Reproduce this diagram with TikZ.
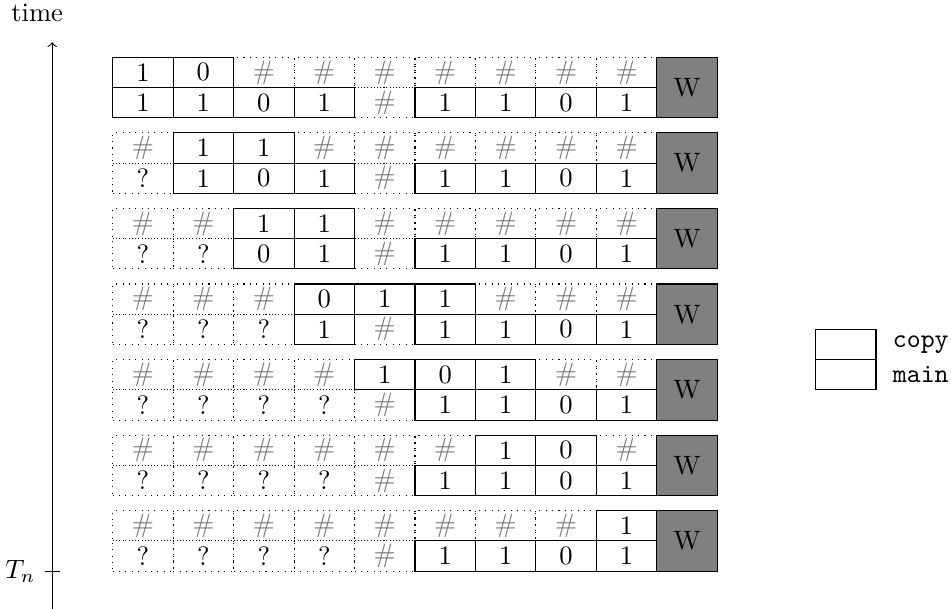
\documentclass[tikz,border=0pt]{standalone}
\begin{document}
\begin{tikzpicture}[
  solidcell/.style={draw, line width=0.4pt, minimum width=0.8cm, minimum height=0.4cm, inner sep=0pt, outer sep=0pt},
  dotcell/.style={draw, dotted, line width=0.4pt, minimum width=0.8cm, minimum height=0.4cm, inner sep=0pt, outer sep=0pt},
  hashtxt/.style={text=black!55},
  wbox/.style={draw, fill=gray, minimum width=0.8cm, minimum height=0.8cm, inner sep=0pt, outer sep=0pt},
  lbl/.style={inner sep=0.117cm}
]
\useasboundingbox (-1.491,-7.3) rectangle (11.093,0.758);
% time axis
\coordinate (abot) at (-0.8,-7.3);
\coordinate (atop) at (-0.8,0.2);
\draw[->] (abot) -- (atop);
\node[anchor=base] (timelbl) at (-1.0,0.47) {time};
\coordinate (tl) at (-0.9,-6.8);
\coordinate (tr) at (-0.7,-6.8);
\draw (tl) -- (tr);
\node[anchor=east] (tn) at (tl) {$T_n$};
\def\rowdata{
  1/{1,0,h,h,h,h,h,h,h}/{1,1,0,1,h,1,1,0,1},
  2/{h,1,1,h,h,h,h,h,h}/{q,1,0,1,h,1,1,0,1},
  3/{h,h,1,1,h,h,h,h,h}/{q,q,0,1,h,1,1,0,1},
  4/{h,h,h,0,1,1,h,h,h}/{q,q,q,1,h,1,1,0,1},
  5/{h,h,h,h,1,0,1,h,h}/{q,q,q,q,h,1,1,0,1},
  6/{h,h,h,h,h,h,1,0,h}/{q,q,q,q,h,1,1,0,1},
  7/{h,h,h,h,h,h,h,h,1}/{q,q,q,q,h,1,1,0,1}}
% pass 1: dotted cells
\foreach \r/\cp/\mn in \rowdata {
  \foreach \s [count=\c] in \cp {
    \if h\s
      \node[dotcell, hashtxt] (c\r-\c) at ({\c*0.8-0.4},{-(\r-1)-0.2}) {\#};
    \fi
  }
  \foreach \s [count=\c] in \mn {
    \if h\s
      \node[dotcell, hashtxt] (m\r-\c) at ({\c*0.8-0.4},{-(\r-1)-0.6}) {\#};
    \fi
    \if q\s
      \node[dotcell] (m\r-\c) at ({\c*0.8-0.4},{-(\r-1)-0.6}) {?};
    \fi
  }
}
% pass 2: solid cells and W boxes
\foreach \r/\cp/\mn in \rowdata {
  \foreach \s [count=\c] in \cp {
    \if h\s \else
      \node[solidcell] (c\r-\c) at ({\c*0.8-0.4},{-(\r-1)-0.2}) {\s};
    \fi
  }
  \foreach \s [count=\c] in \mn {
    \if h\s \else \if q\s \else
      \node[solidcell] (m\r-\c) at ({\c*0.8-0.4},{-(\r-1)-0.6}) {\s};
    \fi\fi
  }
  \node[wbox] (w\r) at (7.6,{-(\r-1)-0.4}) {W};
}
% legend
\node[solidcell] (lcopy) at (9.7,-3.8) {};
\node[solidcell] (lmain) at (9.7,-4.2) {};
\node[anchor=west, lbl] (tcopy) at ([xshift=0.1cm]lcopy.east) {\texttt{copy}};
\node[anchor=west, lbl] (tmain) at ([xshift=0.1cm]lmain.east) {\texttt{main}};
\end{tikzpicture}
\end{document}
